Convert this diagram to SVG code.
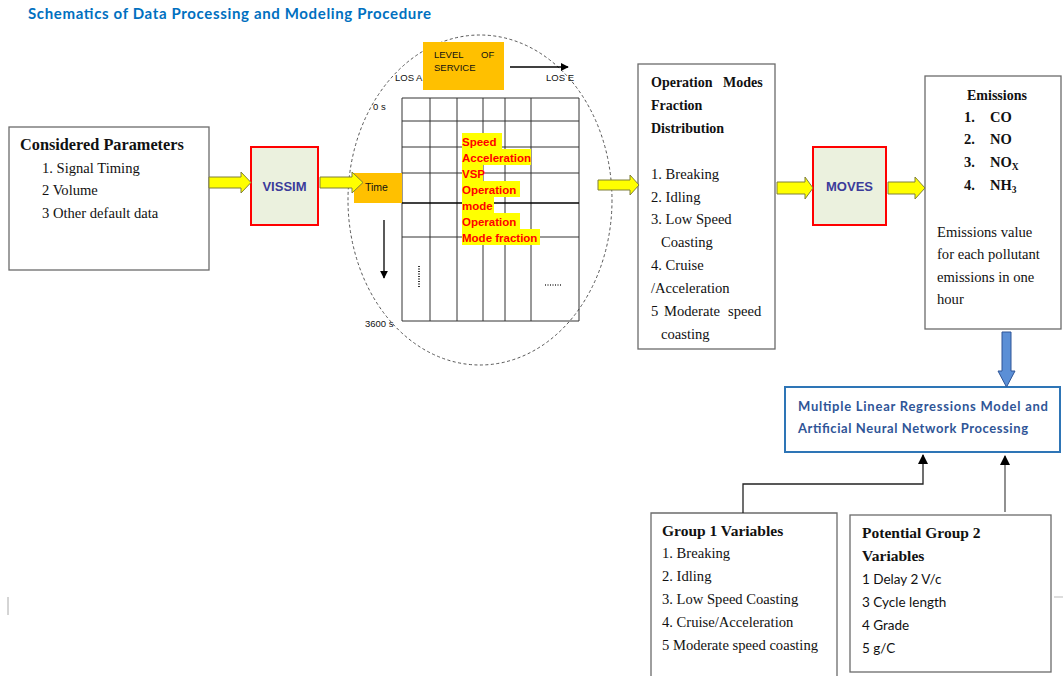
<svg xmlns="http://www.w3.org/2000/svg" width="1063" height="676" viewBox="0 0 1063 676">
<defs>
<style>
.box{fill:#fff;stroke:#6b6b6b;stroke-width:1.3}
.sim{fill:#EBF1DE;stroke:#FF0000;stroke-width:2}
.serif{font-family:"Liberation Serif","Times New Roman",serif;font-size:14.6px;fill:#111}
.serifb{font-family:"Liberation Serif","Times New Roman",serif;font-weight:bold;fill:#111}
.sans{font-family:"Liberation Sans",Arial,sans-serif;fill:#111}
.simt{font-family:"Liberation Sans",Arial,sans-serif;font-size:13px;font-weight:bold;fill:#3B3B9A}
.yarrow{fill:#FFFF00;stroke:#7F7F3A;stroke-width:1}
.grid{stroke:#333;stroke-width:1;fill:none}
.hl{fill:#FFFF00}
.red{font-family:"Liberation Sans",Arial,sans-serif;font-size:11.5px;font-weight:bold;fill:#FF0000}
.conn{stroke:#222;stroke-width:1.3;fill:none}
</style>
<marker id="ah" viewBox="0 0 10 10" refX="9" refY="5" markerWidth="8" markerHeight="8" markerUnits="userSpaceOnUse" orient="auto"><path d="M0,0 L10,5 L0,10 z" fill="#000"/></marker>
<marker id="ah2" viewBox="0 0 10 10" refX="9" refY="5" markerWidth="10" markerHeight="10" markerUnits="userSpaceOnUse" orient="auto"><path d="M0,0 L10,5 L0,10 z" fill="#000"/></marker>
</defs>
<rect width="1063" height="676" fill="#fff"/>

<text x="28" y="19" font-family="Lato,'Liberation Sans',sans-serif" font-size="15" font-weight="bold" fill="#0070C0" textLength="403">Schematics of Data Processing and Modeling Procedure</text>

<g id="considered-parameters">
<rect class="box" x="9" y="127" width="200" height="143"/>
<text class="serifb" x="20" y="150" font-size="16.3">Considered Parameters</text>
<text class="serif" x="42" y="173">1. Signal Timing</text>
<text class="serif" x="42" y="195">2 Volume</text>
<text class="serif" x="42" y="218">3 Other default data</text>
</g>

<g id="vissim">
<rect class="sim" x="251" y="147" width="67" height="78"/>
<text class="simt" x="284.5" y="191" text-anchor="middle">VISSIM</text>
</g>

<g id="simulation-output">
<ellipse cx="480" cy="200" rx="132" ry="165" fill="none" stroke="#444" stroke-width="0.9" stroke-dasharray="3,2.5"/>
<rect x="423" y="42" width="81" height="48" fill="#FFC000"/>
<text class="sans" x="434" y="58" font-size="9.5">LEVEL</text>
<text class="sans" x="481" y="58" font-size="9.5">OF</text>
<text class="sans" x="434" y="71" font-size="9.5">SERVICE</text>
<text class="sans" x="395" y="81" font-size="9.5">LOS A</text>
<text class="sans" x="546" y="81" font-size="9.5">LOS E</text>
<line x1="510" y1="67" x2="568" y2="67" stroke="#000" stroke-width="1.3" marker-end="url(#ah)"/>
<text class="sans" x="373" y="110" font-size="9.5">0 s</text>
<text class="sans" x="365" y="327" font-size="9.5">3600 s</text>
<line x1="384" y1="220" x2="384" y2="278" stroke="#000" stroke-width="1.3" marker-end="url(#ah)"/>
<path class="grid" d="M402,98H579V321H402Z M430,98V321 M457,98V321 M483,98V321 M505,98V321 M531,98V321 M402,121H579 M402,147H579 M402,173H579 M402,237H579"/>
<line x1="402" y1="203" x2="579" y2="203" stroke="#000" stroke-width="1.3"/>
<rect x="354" y="173" width="48" height="30" fill="#FFC000"/>
<text class="sans" x="365" y="191" font-size="10.5">Time</text>
<line x1="419" y1="266" x2="419" y2="287" stroke="#333" stroke-width="2" stroke-dasharray="1,1.5"/>
<line x1="545" y1="285" x2="561" y2="285" stroke="#333" stroke-width="1.3" stroke-dasharray="1,1.5"/>
<rect class="hl" x="462" y="133" width="40" height="16"/>
<rect class="hl" x="462" y="149" width="69" height="16"/>
<rect class="hl" x="462" y="165" width="21" height="16"/>
<rect class="hl" x="462" y="181" width="58" height="16"/>
<rect class="hl" x="462" y="197" width="32" height="16"/>
<rect class="hl" x="462" y="213" width="58" height="16"/>
<rect class="hl" x="462" y="229" width="78" height="16"/>
<text class="red" x="462" y="146">Speed</text>
<text class="red" x="462" y="162">Acceleration</text>
<text class="red" x="462" y="178">VSP</text>
<text class="red" x="462" y="194">Operation</text>
<text class="red" x="462" y="210">mode</text>
<text class="red" x="462" y="226">Operation</text>
<text class="red" x="462" y="242">Mode fraction</text>
</g>

<g id="operation-modes">
<rect class="box" x="638" y="64" width="137" height="285"/>
<text class="serifb" x="651" y="87" font-size="14">Operation</text>
<text class="serifb" x="723" y="87" font-size="14">Modes</text>
<text class="serifb" x="651" y="110" font-size="14">Fraction</text>
<text class="serifb" x="651" y="133" font-size="14">Distribution</text>
<text class="serif" x="651" y="179">1. Breaking</text>
<text class="serif" x="651" y="202">2. Idling</text>
<text class="serif" x="651" y="224">3. Low Speed</text>
<text class="serif" x="661" y="247">Coasting</text>
<text class="serif" x="651" y="270">4. Cruise</text>
<text class="serif" x="651" y="293">/Acceleration</text>
<text class="serif" x="651" y="316">5</text>
<text class="serif" x="664" y="316">Moderate</text>
<text class="serif" x="728" y="316">speed</text>
<text class="serif" x="661" y="339">coasting</text>
</g>

<g id="moves">
<rect class="sim" x="813" y="147" width="73" height="78"/>
<text class="simt" x="849.5" y="191" text-anchor="middle">MOVES</text>
</g>

<g id="emissions">
<rect class="box" x="925" y="76" width="136" height="253"/>
<text class="serifb" x="997" y="100" text-anchor="middle" font-size="14">Emissions</text>
<text class="serifb" x="964" y="122" font-size="14.5">1.</text><text class="serifb" x="990" y="122" font-size="14.5">CO</text>
<text class="serifb" x="964" y="144" font-size="14.5">2.</text><text class="serifb" x="990" y="144" font-size="14.5">NO</text>
<text class="serifb" x="964" y="167" font-size="14.5">3.</text><text class="serifb" x="990" y="167" font-size="14.5">NO<tspan font-size="9.5" dy="3">X</tspan></text>
<text class="serifb" x="964" y="190" font-size="14.5">4.</text><text class="serifb" x="990" y="190" font-size="14.5">NH<tspan font-size="9.5" dy="3">3</tspan></text>
<text class="serif" x="937" y="237">Emissions value</text>
<text class="serif" x="937" y="259">for each pollutant</text>
<text class="serif" x="937" y="282">emissions in one</text>
<text class="serif" x="937" y="304">hour</text>
</g>

<g id="mlr-ann">
<rect x="785" y="387" width="275" height="65" fill="#fff" stroke="#2E75B6" stroke-width="2"/>
<text x="798" y="411" font-family="Lato,'Liberation Sans',sans-serif" font-size="13" font-weight="bold" fill="#2F5597" textLength="250">Multiple Linear Regressions Model and</text>
<text x="798" y="433" font-family="Lato,'Liberation Sans',sans-serif" font-size="13" font-weight="bold" fill="#2F5597" textLength="230">Artificial Neural Network Processing</text>
</g>

<g id="group1">
<path class="box" d="M651,676V513H837V676"/>
<text class="serifb" x="662" y="536" font-size="15.5">Group 1 Variables</text>
<text class="serif" x="662" y="558">1. Breaking</text>
<text class="serif" x="662" y="581">2. Idling</text>
<text class="serif" x="662" y="604">3. Low Speed Coasting</text>
<text class="serif" x="662" y="627">4. Cruise/Acceleration</text>
<text class="serif" x="662" y="650">5 Moderate speed coasting</text>
</g>

<g id="group2">
<rect class="box" x="850" y="515" width="201" height="157" stroke="#333"/>
<text class="serifb" x="862" y="538" font-size="15.5">Potential Group 2</text>
<text class="serifb" x="862" y="561" font-size="15.5">Variables</text>
<text x="862" y="584" font-family="Lato,'Liberation Sans',sans-serif" font-size="13.5" fill="#111">1 Delay 2 V/c</text>
<text x="862" y="607" font-family="Lato,'Liberation Sans',sans-serif" font-size="13.5" fill="#111">3 Cycle length</text>
<text x="862" y="630" font-family="Lato,'Liberation Sans',sans-serif" font-size="13.5" fill="#111">4 Grade</text>
<text x="862" y="653" font-family="Lato,'Liberation Sans',sans-serif" font-size="13.5" fill="#111">5 g/C</text>
</g>

<g id="connectors">
<path class="yarrow" d="M209,177H241V172L251,182.5L241,193V188H209Z"/>
<path class="yarrow" d="M320,177H352V172L363,182.5L352,193V188H320Z"/>
<path class="yarrow" d="M598,180H630V175L639,185L630,195V190H598Z"/>
<path class="yarrow" d="M777,182H805V177L813,188L805,199V194H777Z"/>
<path class="yarrow" d="M888,182H915V177L925,188L915,199V194H888Z"/>
<path d="M1002,332H1011V371H1015L1006.5,387L998,371H1002Z" fill="#5B8FD6" stroke="#2F5597" stroke-width="1"/>
<path class="conn" d="M743,513V484H923V455" marker-end="url(#ah2)"/>
<path d="M1005,512V456" stroke="#555" stroke-width="1.3" fill="none" marker-end="url(#ah2)"/>
<line x1="8" y1="597" x2="8" y2="615" stroke="#aaa" stroke-width="1"/>
<line x1="1054" y1="597" x2="1063" y2="597" stroke="#bbb" stroke-width="1"/>
</g>
</svg>
